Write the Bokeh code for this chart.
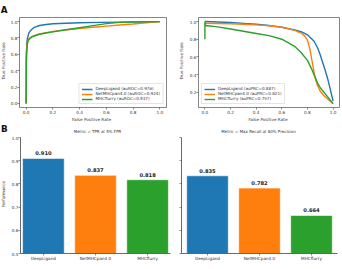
import math
from bokeh.plotting import figure
from bokeh.layouts import column, row
from bokeh.models import FixedTicker, Legend, LegendItem, Range1d, PrintfTickFormatter
from bokeh.core.properties import value
from bokeh.embed import file_html
from bokeh.resources import INLINE

methods = ["DeepLigand", "NetMHCpan4.0", "MHCflurry"]
colors = ["#1f77b4", "#ff7f0e", "#2ca02c"]
auroc = [0.976, 0.924, 0.937]
auprc = [0.887, 0.821, 0.757]
tpr_at_5fpr = [0.910, 0.837, 0.818]
recall_at_80p = [0.835, 0.782, 0.664]

# ROC curves (false positive rate, true positive rate)
roc_fpr_deep = [0.0, 0.0, 0.005, 0.01, 0.02, 0.035, 0.06, 0.1, 0.15, 0.2, 0.3, 0.4, 0.55, 0.7, 0.85, 1.0]
roc_tpr_deep = [0.0, 0.55, 0.74, 0.8, 0.86, 0.895, 0.93, 0.952, 0.965, 0.973, 0.98, 0.985, 0.99, 0.994, 0.997, 1.0]
roc_fpr_net = [0.0, 0.001, 0.005, 0.01, 0.02, 0.04, 0.07, 0.1, 0.15, 0.2, 0.3, 0.4, 0.5, 0.6, 0.7, 0.8, 0.9, 1.0]
roc_tpr_net = [0.0, 0.6, 0.7, 0.75, 0.79, 0.815, 0.835, 0.85, 0.865, 0.88, 0.9, 0.915, 0.93, 0.945, 0.958, 0.97, 0.985, 1.0]
roc_fpr_mhcf = [0.0, 0.002, 0.005, 0.01, 0.02, 0.04, 0.07, 0.1, 0.15, 0.2, 0.3, 0.4, 0.5, 0.6, 0.7, 0.8, 1.0]
roc_tpr_mhcf = [0.0, 0.5, 0.65, 0.74, 0.78, 0.81, 0.83, 0.845, 0.86, 0.875, 0.9, 0.925, 0.95, 0.975, 0.99, 0.995, 1.0]

# PR curves (recall, precision)
pr_rec_deep = [0.0, 0.1, 0.2, 0.3, 0.4, 0.5, 0.6, 0.7, 0.75, 0.8, 0.85, 0.88, 0.9, 0.92, 0.94, 0.96, 0.98, 1.0]
pr_pre_deep = [1.0, 0.995, 0.99, 0.98, 0.97, 0.955, 0.935, 0.905, 0.885, 0.85, 0.78, 0.7, 0.62, 0.53, 0.44, 0.34, 0.22, 0.1]
pr_rec_net = [0.0, 0.1, 0.2, 0.3, 0.4, 0.5, 0.6, 0.65, 0.7, 0.75, 0.78, 0.8, 0.82, 0.84, 0.86, 0.88, 0.9, 0.93, 0.96, 1.0]
pr_pre_net = [0.98, 0.978, 0.975, 0.97, 0.962, 0.952, 0.935, 0.92, 0.9, 0.87, 0.835, 0.79, 0.68, 0.52, 0.36, 0.27, 0.21, 0.16, 0.12, 0.07]
pr_rec_mhcf = [0.0, 0.0, 0.005, 0.1, 0.2, 0.3, 0.4, 0.5, 0.6, 0.7, 0.75, 0.8, 0.83, 0.86, 0.88, 0.9, 0.95, 1.0]
pr_pre_mhcf = [0.8, 1.0, 0.955, 0.94, 0.915, 0.89, 0.865, 0.84, 0.8, 0.72, 0.65, 0.56, 0.47, 0.37, 0.3, 0.25, 0.16, 0.07]

ticks01 = [0.0, 0.2, 0.4, 0.6, 0.8, 1.0]
pr_yticks = [0.2, 0.4, 0.6, 0.8, 1.0]
bar_yticks = [0.5, 0.6, 0.7, 0.8, 0.9, 1.0]

panel_a = "A"
panel_b = "B"
roc_xlabel = "False Positive Rate"
roc_ylabel = "True Positive Rate"
bar_ylabel = "Performance"
bar_xlabel = "Method"
bar_titles = ["Metric = TPR at 5% FPR", "Metric = Max Recall at 80% Precision"]

FONT = "DejaVu Sans"
TXT = "#333333"
FS = "4.2px"


def style_axis(ax):
    ax.major_tick_out = 2
    ax.major_tick_in = 0
    ax.minor_tick_line_color = None
    ax.major_tick_line_color = "#444444"
    ax.major_tick_line_width = 0.6
    ax.major_label_text_font = FONT
    ax.major_label_text_font_size = FS
    ax.major_label_text_color = TXT
    ax.major_label_standoff = 0


def strip(w, h):
    """A bare figure whose frame is the whole canvas, used to hold outside texts."""
    s = figure(width=w, height=h, output_backend="svg", toolbar_location=None,
               title=None, x_range=Range1d(0, w), y_range=Range1d(0, h),
               min_border=0, min_border_left=0, min_border_right=0,
               min_border_top=0, min_border_bottom=0,
               x_axis_location=None, y_axis_location=None)
    s.grid.visible = False
    s.outline_line_color = None
    return s


def put(s, x, y, text, size=FS, align="center", angle=0.0, bold=False, color=TXT):
    s.text(x=[x], y=[y], text=[text], angle=angle, text_align=align,
           text_baseline="middle", text_font=value(FONT), text_font_size=size,
           text_font_style="bold" if bold else "normal", text_color=color)


def curve_fig(width, height, yr, yticks, mb_left, mb_right):
    p = figure(width=width, height=height, output_backend="svg", toolbar_location=None,
               title=None, x_range=Range1d(-0.05, 1.05), y_range=yr,
               min_border_left=mb_left, min_border_right=mb_right,
               min_border_top=3, min_border_bottom=7)
    p.grid.visible = False
    p.outline_line_color = "#666666"
    p.outline_line_width = 0.8
    p.xaxis.ticker = FixedTicker(ticks=ticks01)
    p.yaxis.ticker = FixedTicker(ticks=yticks)
    for ax in (p.xaxis[0], p.yaxis[0]):
        style_axis(ax)
        ax.axis_line_color = None
        ax.formatter = PrintfTickFormatter(format="%.1f")
    return p


def add_legend(p, renderers, labels, loc):
    items = [LegendItem(label=l, renderers=[r]) for l, r in zip(labels, renderers)]
    lg = Legend(items=items, location=loc)
    lg.label_text_font = FONT
    lg.label_text_font_size = "4.1px"
    lg.label_text_color = TXT
    lg.label_height = 4
    lg.glyph_height = 4
    lg.glyph_width = 11
    lg.label_standoff = 3
    lg.spacing = 0
    lg.padding = 2
    lg.margin = 3
    lg.border_line_color = "#cccccc"
    lg.border_line_width = 0.6
    lg.background_fill_alpha = 0.85
    p.add_layout(lg)


# ---------- top strip with the panel letter A ----------
sTop = strip(342, 14)
put(sTop, 0.2, 5.0, panel_a, size="8.8px", align="left", bold=True, color="#111111")

# ---------- Row A (page y 14..116) ----------
p1 = curve_fig(164, 102, Range1d(-0.05, 1.05), ticks01, 9, 5)
roc_x = [roc_fpr_deep, roc_fpr_net, roc_fpr_mhcf]
roc_y = [roc_tpr_deep, roc_tpr_net, roc_tpr_mhcf]
rs = [p1.line(x, y, line_color=c, line_width=1.4) for x, y, c in zip(roc_x, roc_y, colors)]
add_legend(p1, rs, [f"{m} (auROC={a:.3f})" for m, a in zip(methods, auroc)], "bottom_right")

p2 = curve_fig(156, 102, Range1d(0.026, 1.046), pr_yticks, 10, 3)
pr_x = [pr_rec_deep, pr_rec_net, pr_rec_mhcf]
pr_y = [pr_pre_deep, pr_pre_net, pr_pre_mhcf]
rs2 = [p2.line(x, y, line_color=c, line_width=1.4) for x, y, c in zip(pr_x, pr_y, colors)]
add_legend(p2, rs2, [f"{m} (auPRC={a:.3f})" for m, a in zip(methods, auprc)], "bottom_left")

sA = strip(7, 102)
put(sA, 3.2, 53, roc_ylabel, angle=math.pi / 2)

sY2 = strip(15, 102)
put(sY2, 10, 53, roc_ylabel, angle=math.pi / 2)

# ---------- strip between rows (page y 116..134) ----------
sM = strip(342, 18)
put(sM, 91, 15.5, roc_xlabel)
put(sM, 267.5, 15.5, roc_xlabel)
put(sM, 0.5, 5.5, panel_b, size="8.8px", align="left", bold=True, color="#111111")
put(sM, 97, 2.6, bar_titles[0], size="4px")
put(sM, 258, 2.6, bar_titles[1], size="4px")


# ---------- Row B (page y 134..263) ----------
def bar_fig(width, height, xr, mb_left, mb_right, vals, ylabels=True):
    p = figure(width=width, height=height, output_backend="svg", toolbar_location=None,
               title=None, x_range=xr, y_range=Range1d(0.5, 1.0),
               min_border_left=mb_left, min_border_right=mb_right,
               min_border_top=3, min_border_bottom=7)
    p.grid.visible = False
    p.outline_line_color = None
    xs = list(range(len(methods)))
    p.vbar(x=xs, top=vals, bottom=0.5, width=0.8, fill_color=colors,
           line_color="white", line_width=0.6)
    p.text(x=xs, y=vals, text=[f"{v:.3f}" for v in vals], text_align="center",
           text_baseline="bottom", y_offset=-3, text_font=value(FONT),
           text_font_size="5.2px", text_font_style="bold", text_color="#222222")
    p.xaxis.ticker = FixedTicker(ticks=xs)
    p.xaxis.major_label_overrides = {i: m for i, m in enumerate(methods)}
    p.yaxis.ticker = FixedTicker(ticks=bar_yticks)
    p.yaxis.formatter = PrintfTickFormatter(format="%.1f")
    for ax in (p.xaxis[0], p.yaxis[0]):
        style_axis(ax)
        ax.axis_line_color = "#444444"
        ax.axis_line_width = 0.8
    if not ylabels:
        p.yaxis.major_label_overrides = {t: "" for t in bar_yticks}
    return p


p3 = bar_fig(164, 129, Range1d(-0.44, 2.44), 13, 1, tpr_at_5fpr)
p4 = bar_fig(171, 129, Range1d(-0.5, 2.5), 10, 5, recall_at_80p, ylabels=False)

sP = strip(7, 129)
put(sP, 3.2, 66, bar_ylabel, angle=math.pi / 2)

# ---------- bottom strip (page y 263..269) ----------
sB = strip(342, 6)
put(sB, 93.5, 3, bar_xlabel)
put(sB, 257.5, 3, bar_xlabel)

layout = column(
    sTop,
    row(sA, p1, sY2, p2, spacing=0),
    sM,
    row(sP, p3, p4, spacing=0),
    sB,
    spacing=0,
)
open("out.html", "w").write(file_html(layout, INLINE))
